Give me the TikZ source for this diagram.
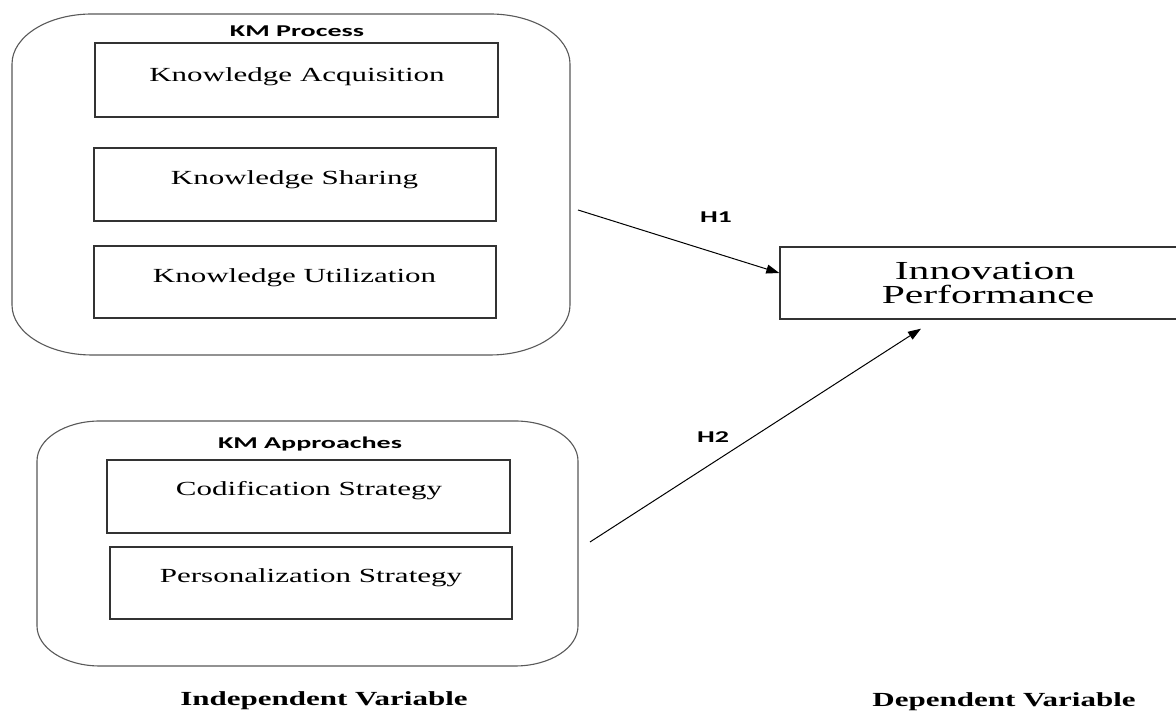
\documentclass[tikz,border=0pt]{standalone}
\usepackage{fontspec}
\usepackage{graphicx}
\setmainfont{Liberation Serif}
\newfontfamily\calfont{Carlito}
\usetikzlibrary{arrows.meta,calc}
\newcommand\sx[2][1.55]{\scalebox{#1}[1]{#2}}
\begin{document}
\begin{tikzpicture}[x=1pt,y=1pt,
  outerline/.style={draw=black!65,line width=1.1pt},
  inbox/.style={draw=black!80,line width=1.4pt,rectangle,inner sep=0pt},
  itext/.style={anchor=base,inner sep=0pt,font=\fontsize{20}{24}\selectfont},
  ttl/.style={anchor=base,inner sep=0pt,font=\calfont\bfseries\fontsize{16.5}{20}\selectfont},
  vlab/.style={anchor=base,inner sep=0pt,font=\bfseries\fontsize{20}{24}\selectfont},
  conn/.style={draw=black,line width=1pt,-{Triangle[length=13pt,width=9pt]}}]
\useasboundingbox (0,0) rectangle (1176,711);
\clip (0,0) rectangle (1176,711);
\fill[white] (0,0) rectangle (1176,711);

% KM Process container
\draw[outerline] (92,697) -- (490,697)
  arc[start angle=90,end angle=0,x radius=80,y radius=50] -- (570,406)
  arc[start angle=0,end angle=-90,x radius=80,y radius=50] -- (92,356)
  arc[start angle=270,end angle=180,x radius=80,y radius=50] -- (12,647)
  arc[start angle=180,end angle=90,x radius=80,y radius=50] -- cycle;
\node[ttl] (proc) at (297,674) {\sx[1.7]{KM Process}};

\node[inbox,minimum width=403pt,minimum height=74pt] (ka) at (296.5,631) {};
\node[inbox,minimum width=402pt,minimum height=73pt] (ks) at (295,526.5) {};
\node[inbox,minimum width=402pt,minimum height=72pt] (ku) at (295,429) {};
\node[itext] (kat) at (297,629) {\sx{Knowledge Acquisition}};
\node[itext] (kst) at (294.5,526) {\sx{Knowledge Sharing}};
\node[itext] (kut) at (294.5,428) {\sx{Knowledge Utilization}};

% KM Approaches container
\draw[outerline] (100,290) -- (515,290)
  arc[start angle=90,end angle=0,x radius=63,y radius=40] -- (578,85)
  arc[start angle=0,end angle=-90,x radius=63,y radius=40] -- (100,45)
  arc[start angle=270,end angle=180,x radius=63,y radius=40] -- (37,250)
  arc[start angle=180,end angle=90,x radius=63,y radius=40] -- cycle;
\node[ttl] (appr) at (310,262) {\sx[1.7]{KM Approaches}};

\node[inbox,minimum width=403pt,minimum height=73pt] (cs) at (308.5,214.5) {};
\node[inbox,minimum width=402pt,minimum height=72pt] (ps) at (311,128) {};
\node[itext] (cst) at (309,215) {\sx{Codification Strategy}};
\node[itext] (pst) at (311,128) {\sx{Personalization Strategy}};

% Innovation Performance
\node[inbox,minimum width=402pt,minimum height=72pt] (inn) at (981,428) {};
\node[anchor=base,inner sep=0pt,font=\fontsize{26}{30}\selectfont] (innA) at (985,431) {\sx[1.6]{Innovation}};
\node[anchor=base,inner sep=0pt,font=\fontsize{26}{30}\selectfont] (innB) at (988,407) {\sx[1.6]{Performance}};

% connectors
\coordinate (h1s) at (578,501);
\coordinate (h2s) at (590,169);
\draw[conn] (h1s) -- ([yshift=10pt]inn.west);
\draw[conn] (h2s) -- ([xshift=-60pt,yshift=-9pt]inn.south);
\node[ttl] (h1) at (716,488) {\sx[1.7]{H1}};
\node[ttl] (h2) at (713,268) {\sx[1.7]{H2}};

% variable labels
\node[vlab] (iv) at (324,5) {\sx{Independent Variable}};
\node[vlab] (dv) at (1004,4) {\sx{Dependent Variable}};
\end{tikzpicture}
\end{document}
